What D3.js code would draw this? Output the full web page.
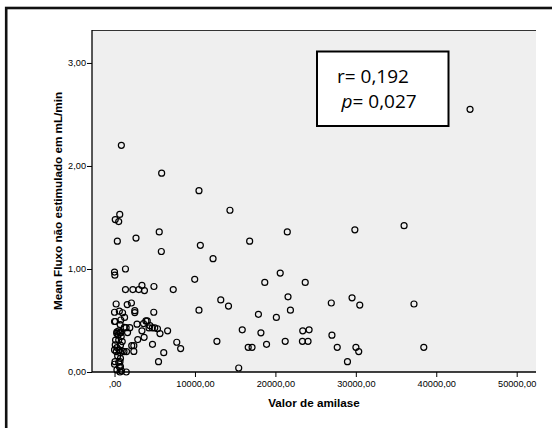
<!DOCTYPE html>
<html>
<head>
<meta charset="utf-8">
<script src="https://cdn.jsdelivr.net/npm/d3@7/dist/d3.min.js"></script>
<style>
  html, body { margin: 0; padding: 0; background: #ffffff; }
  svg { display: block; }
</style>
</head>
<body>
<svg id="chart" width="552" height="428"></svg>
<script>
// Valor de amilase (x) and Mean Fluxo não estimulado em mL/min (y), one entry per subject
const amilase = [
  44200, 850, 5860, 10500, 14350, 650, 90, 520, 5560, 2670, 350, 21480, 29880, 36000,
  16800, 10670, 5820, 12250, 1360, 0, 40, 9970, 20600, 18680, 23710,
  1360, 2280, 3020, 3410, 3720, 4900, 7300, 13210, 14170, 21570, 29530, 30490, 37230,
  26950, 10500, 21870, 17890, 20120,
  200, 1580, 2100, 0, 600, 1000, 2520, 2520, 4880, 0, 100, 780, 1250, 700, 2800,
  3900, 4070, 3600, 4400, 4290, 4700, 5000, 5340, 6600, 5650, 1440, 1900, 1220, 1620,
  3410, 3680, 2890, 4720, 7740, 8220, 6120, 5470, 2140, 2400, 2400, 1490, 1180, 1460,
  12730, 15880, 15440, 16620, 17100, 18200, 18900, 21220, 23400, 24190, 23360, 24060,
  27030, 27690, 28960, 30010, 30360, 38450,
  300, 660, 440, 830, 130, 520, 960, 90, 740, 300, 0, 570, 960, 220, 700, 390, 740,
  0, 520, 740, 300, 870, 600, 680, 60, 680, 270, 770, 520
];
const fluxo = [
  2.55, 2.20, 1.93, 1.76, 1.57, 1.53, 1.48, 1.46, 1.36, 1.30, 1.27, 1.36, 1.38, 1.42,
  1.27, 1.23, 1.17, 1.10, 1.00, 0.97, 0.94, 0.90, 0.96, 0.87, 0.87,
  0.80, 0.80, 0.80, 0.84, 0.79, 0.83, 0.80, 0.70, 0.64, 0.73, 0.72, 0.65, 0.66,
  0.67, 0.60, 0.60, 0.56, 0.53,
  0.66, 0.655, 0.67, 0.58, 0.59, 0.575, 0.595, 0.577, 0.58, 0.49, 0.49, 0.505, 0.53, 0.46, 0.464,
  0.496, 0.496, 0.47, 0.45, 0.428, 0.428, 0.428, 0.42, 0.40, 0.373, 0.43, 0.43, 0.434, 0.383,
  0.40, 0.337, 0.315, 0.269, 0.289, 0.227, 0.188, 0.10, 0.256, 0.256, 0.20, 0.198, 0.198, 0.00,
  0.298, 0.409, 0.039, 0.24, 0.24, 0.38, 0.269, 0.298, 0.40, 0.409, 0.298, 0.298,
  0.357, 0.24, 0.10, 0.24, 0.198, 0.24,
  0.39, 0.38, 0.36, 0.344, 0.31, 0.31, 0.295, 0.263, 0.26, 0.237, 0.214, 0.214, 0.204, 0.198, 0.188, 0.156, 0.133,
  0.075, 0.094, 0.052, 0.02, 0.01, 0.05, 0.0, 0.10, 0.10, 0.375, 0.382, 0.40
];
const xTicks = [0, 10000, 20000, 30000, 40000, 50000];
const xTickLabels = [",00", "10000,00", "20000,00", "30000,00", "40000,00", "50000,00"];
const yTicks = [0, 1, 2, 3];
const yTickLabels = ["0,00", "1,00", "2,00", "3,00"];
const statLines = [["r= 0,192", ""], ["p", "= 0,027"]];

const points = amilase.map((a, i) => ({ x: a, y: fluxo[i] }));

const svg = d3.select("#chart");
const plot = { left: 92, right: 536, top: 30, bottom: 372 };

const x = d3.scaleLinear().domain([-2800, 52400]).range([plot.left, plot.right]);
const y = d3.scaleLinear().domain([0, 3.32]).range([plot.bottom, plot.top]);

// outer frame (only its top and left edges fall inside the view)
svg.append("rect")
  .attr("x", 6.2).attr("y", 8)
  .attr("width", 700).attr("height", 600)
  .attr("fill", "none")
  .attr("stroke", "#111").attr("stroke-width", 2.6);

// plot background
svg.append("rect")
  .attr("x", plot.left).attr("y", plot.top)
  .attr("width", plot.right - plot.left).attr("height", plot.bottom - plot.top)
  .attr("fill", "#efefef");

svg.append("line")
  .attr("x1", plot.left).attr("x2", plot.right)
  .attr("y1", plot.top + 0.5).attr("y2", plot.top + 0.5)
  .attr("stroke", "#333").attr("stroke-width", 1);

// axes
const xAxis = d3.axisBottom(x).tickValues(xTicks)
  .tickFormat((d, i) => xTickLabels[i]).tickSizeOuter(0).tickSize(5).tickPadding(3);
const yAxis = d3.axisLeft(y).tickValues(yTicks)
  .tickFormat((d, i) => yTickLabels[i]).tickSizeOuter(0).tickSize(5).tickPadding(1);

const gx = svg.append("g").attr("transform", `translate(0,${plot.bottom})`).call(xAxis);
const gy = svg.append("g").attr("transform", `translate(${plot.left},0)`).call(yAxis);

[gx, gy].forEach(g => {
  g.select(".domain").attr("stroke", "#000").attr("stroke-width", 1.3);
  g.selectAll(".tick line").attr("stroke", "#000").attr("stroke-width", 1);
  g.selectAll(".tick text")
    .attr("font-family", "'Liberation Sans', Arial, sans-serif")
    .attr("font-size", 9.2).attr("fill", "#000");
});
gx.select(".domain").attr("d", `M${plot.left},0H${plot.right}`);
gy.select(".domain").attr("d", `M0,${plot.bottom}V${plot.top}`);

// axis titles
svg.append("text")
  .attr("x", (plot.left + plot.right) / 2).attr("y", 407)
  .attr("text-anchor", "middle")
  .attr("font-family", "'Liberation Sans', Arial, sans-serif")
  .attr("font-weight", "bold").attr("font-size", 11.7)
  .text("Valor de amilase");

svg.append("text")
  .attr("transform", `translate(62,${201}) rotate(-90)`)
  .attr("text-anchor", "middle")
  .attr("font-family", "'Liberation Sans', Arial, sans-serif")
  .attr("font-weight", "bold").attr("font-size", 11.7)
  .text("Mean Fluxo não estimulado em mL/min");

// scatter points
svg.append("g").selectAll("circle")
  .data(points)
  .join("circle")
  .attr("cx", d => x(d.x))
  .attr("cy", d => y(d.y))
  .attr("r", 3)
  .attr("fill", "none")
  .attr("stroke", "#000")
  .attr("stroke-width", 1.2);

// correlation box
svg.append("rect")
  .attr("x", 317).attr("y", 51.5)
  .attr("width", 131.5).attr("height", 74.5)
  .attr("fill", "#fff").attr("stroke", "#000").attr("stroke-width", 2);

const st1 = svg.append("text")
  .attr("x", 337).attr("y", 83)
  .attr("font-family", "'Open Sans', sans-serif").attr("font-size", 19);
st1.append("tspan").text(statLines[0][0]);

const st2 = svg.append("text")
  .attr("x", 341.5).attr("y", 108)
  .attr("font-family", "'Open Sans', sans-serif").attr("font-size", 19);
st2.append("tspan").attr("font-style", "italic").text(statLines[1][0]);
st2.append("tspan").text(statLines[1][1]);
</script>
</body>
</html>
